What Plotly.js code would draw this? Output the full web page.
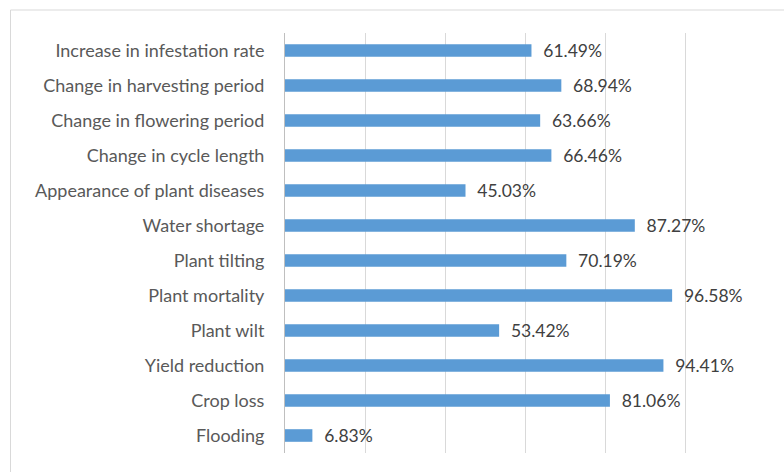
<!DOCTYPE html>
<html>
<head>
<meta charset="utf-8">
<script src="https://cdn.plot.ly/plotly-3.0.1.min.js"></script>
<style>html,body{margin:0;padding:0;background:#fff;}#chart{width:784px;height:472px;}</style>
</head>
<body>
<div id="chart"></div>
<script>
var categories = [
  "Increase in infestation rate",
  "Change in harvesting period",
  "Change in flowering period",
  "Change in cycle length",
  "Appearance of plant diseases",
  "Water shortage",
  "Plant tilting",
  "Plant mortality",
  "Plant wilt",
  "Yield reduction",
  "Crop loss",
  "Flooding"
];
var values = [61.49, 68.94, 63.66, 66.46, 45.03, 87.27, 70.19, 96.58, 53.42, 94.41, 81.06, 6.83];

var trace = {
  type: 'bar',
  orientation: 'h',
  y: categories,
  x: values,
  marker: {color: '#5B9BD5'},
  text: values.map(function(v){ return '\u2002' + v.toFixed(2) + '%'; }),
  textposition: 'outside',
  constraintext: 'none',
  cliponaxis: false,
  textfont: {family: 'Lato, sans-serif', size: 17.5, color: '#404040'},
  hoverinfo: 'none'
};

var layout = {
  width: 784,
  height: 472,
  margin: {l: 285, r: 18, t: 33, b: 19},
  paper_bgcolor: '#ffffff',
  plot_bgcolor: '#ffffff',
  showlegend: false,
  bargap: 0.64,
  font: {family: 'Lato, sans-serif', size: 18, color: '#595959'},
  xaxis: {
    range: [0, 120],
    dtick: 20,
    showticklabels: false,
    showgrid: true,
    gridcolor: '#d9d9d9',
    gridwidth: 1,
    zeroline: false,
    showline: false,
    fixedrange: true
  },
  yaxis: {
    autorange: 'reversed',
    type: 'category',
    showgrid: false,
    showline: true,
    linecolor: '#bfbfbf',
    linewidth: 1,
    ticks: '',
    ticklabelstandoff: 16,
    tickfont: {family: 'Lato, sans-serif', size: 18, color: '#595959'},
    fixedrange: true
  },
  shapes: [{
    type: 'rect',
    xref: 'paper', yref: 'paper',
    x0: (10.5 - 285) / 481, x1: 3,
    y0: -2, y1: (453 - 10) / 420,
    line: {color: '#d9d9d9', width: 1},
    fillcolor: 'rgba(0,0,0,0)',
    layer: 'below'
  }]
};

Plotly.newPlot('chart', [trace], layout, {displayModeBar: false, staticPlot: true});
</script>
</body>
</html>
